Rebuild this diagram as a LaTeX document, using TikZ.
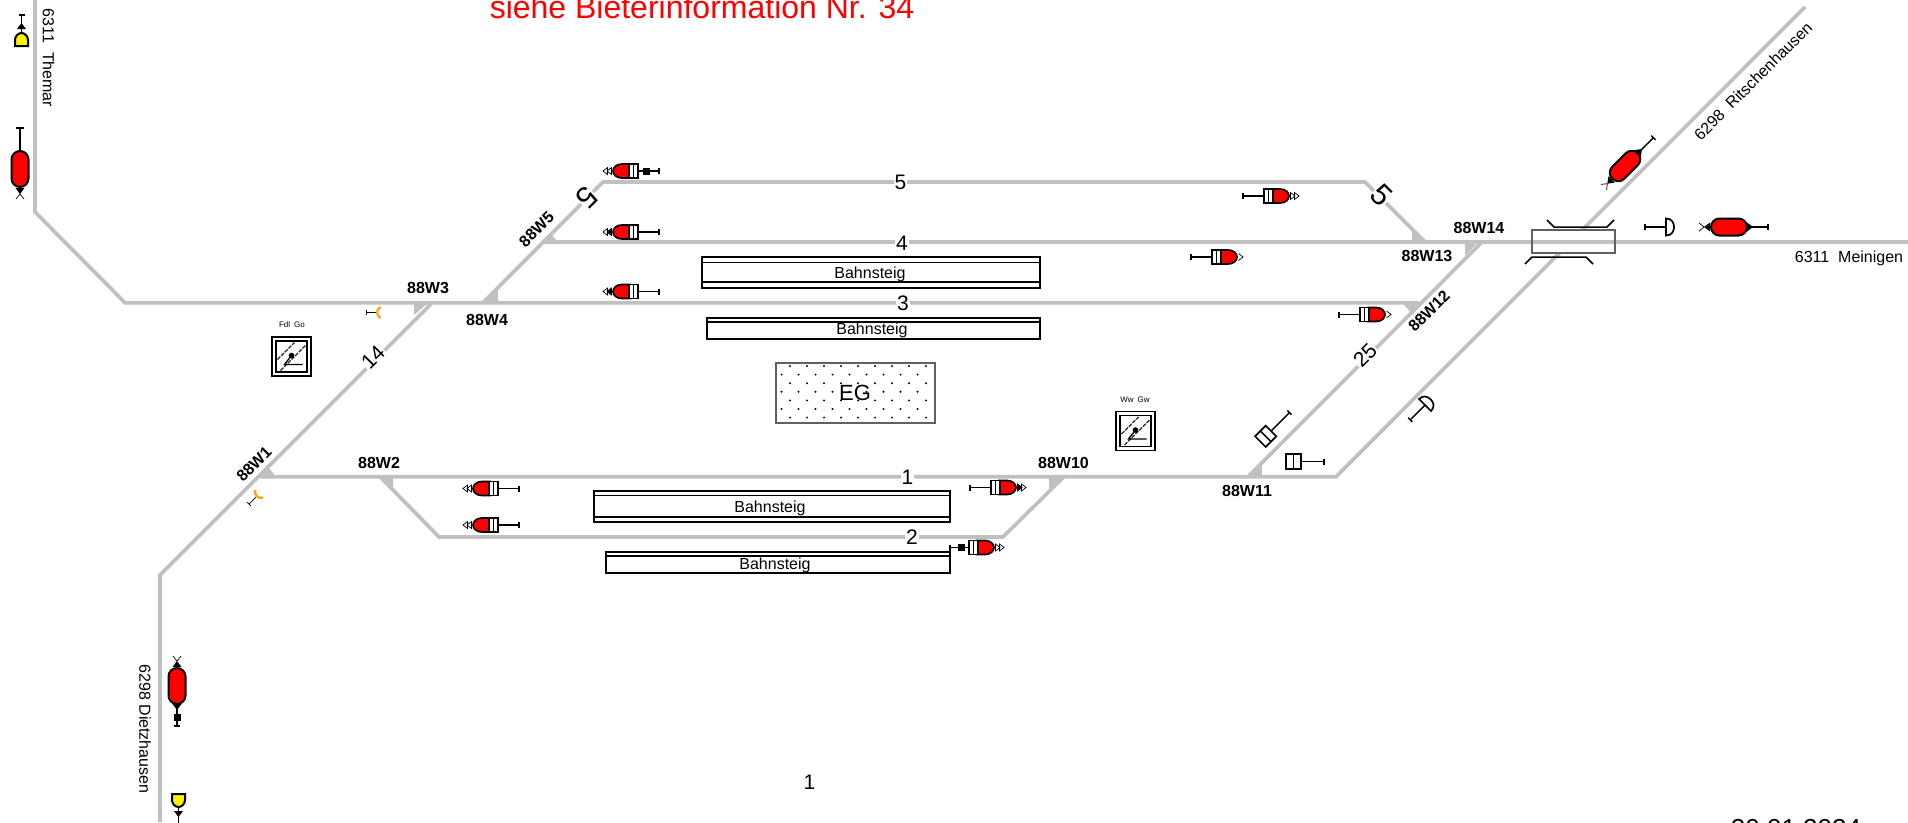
\documentclass[tikz,border=0pt]{standalone}
\usepackage{fontspec}
\setmainfont{Liberation Sans}
\newcommand{\fsz}[1]{\fontsize{#1}{#1}\selectfont}
\definecolor{trackgray}{HTML}{C0C0C0}
\definecolor{boxgray}{HTML}{606060}
\definecolor{warnorange}{HTML}{FFA500}
\tikzset{
  track/.style={draw=trackgray,line width=3.7pt,line join=miter},
  wedge/.style={fill=trackgray,draw=none},
  sigline/.style={draw=black,line width=1.4pt},
  heavyline/.style={draw=black,line width=1.7pt},
  thinline/.style={draw=black,line width=.7pt},
  swlabel/.style={font=\bfseries\fsz{16},inner sep=0pt},
  lbl/.style={font=\fsz{16},inner sep=0pt},
  tracknum/.style={font=\fsz{21},fill=white,inner sep=1pt},
  bignum/.style={font=\fsz{30},fill=white,inner sep=0pt},
  platform/.style={draw=black,line width=1.6pt},
  pics/stemline/.style={code={
    \draw[sigline] (0,0) -- (#1,0);
    \draw[sigline] (#1,-3) -- (#1,3);
  }},
  pics/sqmark/.style={code={
    \fill[black] (#1,-3.5) -- (#1+7,-3.5) -- (#1+7,3.5) -- (#1,3.5) -- cycle;
  }},
  pics/shead/.style={code={
    \draw[heavyline,fill=red] (-8,-7) -- (-16,-7) .. controls (-21.5,-7) and (-25,-3.5) .. (-25,0)
      .. controls (-25,3.5) and (-21.5,7) .. (-16,7) -- (-8,7) -- cycle;
    \draw[heavyline,fill=white] (-9,-7) -- (0,-7) -- (0,7) -- (-9,7) -- cycle;
    \draw[sigline] (-4.5,-7) -- (-4.5,7);
  }},
  pics/chevout/.style={code={
    \draw[thinline] (-26.5,-3.5) -- (-31,0) -- (-26.5,3.5) -- cycle;
    \draw[thinline] (-30.5,-3.5) -- (-35,0) -- (-30.5,3.5) -- cycle;
  }},
  pics/chevfill/.style={code={
    \draw[thinline,fill=black] (-26.5,-3.5) -- (-31,0) -- (-26.5,3.5) -- cycle;
    \draw[thinline] (-30.5,-3.5) -- (-35,0) -- (-30.5,3.5) -- cycle;
  }},
  pics/chevone/.style={code={
    \draw[thinline] (-26.5,-3.5) -- (-31,0) -- (-26.5,3.5);
  }},
  pics/pill/.style={code={
    \draw[line width=2pt,draw=black,fill=red]
      (-9.5,-8.5) -- (9.5,-8.5) .. controls (14.2,-8.5) and (18,-4.7) .. (18,0)
      .. controls (18,4.7) and (14.2,8.5) .. (9.5,8.5) -- (-9.5,8.5)
      .. controls (-14.2,8.5) and (-18,4.7) .. (-18,0)
      .. controls (-18,-4.7) and (-14.2,-8.5) .. (-9.5,-8.5) -- cycle;
  }},
  pics/tritip/.style={code={
    \fill[black] (#1,-4.5) -- (#1+6,0) -- (#1,4.5) -- cycle;
  }},
  pics/tritail/.style={code={
    \fill[black] (-#1,-4.5) -- (-#1-6,0) -- (-#1,4.5) -- cycle;
    \draw[thinline] (-#1-11,-4) -- (-#1-6,0) -- (-#1-11,4);
  }},
  pics/dsig/.style={code={
    \draw[sigline] (0,0) -- (-21,0);
    \draw[sigline] (-21,-3) -- (-21,3);
    \draw[heavyline,fill=white] (0,-8.5) .. controls (6,-8.5) and (8,-4) .. (8,0)
      .. controls (8,4) and (6,8.5) .. (0,8.5) -- cycle;
  }},
  pics/boxsig/.style={code={
    \draw[sigline] (0,0) -- (#1,0);
    \draw[sigline] (#1,-3) -- (#1,3);
    \draw[heavyline,fill=white] (-15,-7.5) -- (0,-7.5) -- (0,7.5) -- (-15,7.5) -- cycle;
    \draw[sigline] (-7.5,-7.5) -- (-7.5,7.5);
  }},
  pics/yellowsig/.style={code={
    \draw[sigline] (13,0) -- (31,0);
    \draw[sigline] (31,-3) -- (31,3);
    \fill[black] (17,-4.5) -- (23,0) -- (17,4.5) -- cycle;
    \draw[line width=2pt,draw=black,fill=yellow] (0,-6.5) -- (6,-6.5)
      .. controls (10,-6.5) and (13,-3) .. (13,0) .. controls (13,3) and (10,6.5) .. (6,6.5)
      -- (0,6.5) -- cycle;
  }},
  pics/smallsig/.style={code={
    \draw[thinline] (0,0) -- (-10,0);
    \draw[thinline] (-10,-2.5) -- (-10,2.5);
    \draw[warnorange,line width=2.2pt] (4.5,-5.5) .. controls (0,-3) and (0,3) .. (4.5,5.5);
  }},
  pics/ctrlbox/.style={code={
    \draw[line width=1.8pt,fill=white] (-19.5,-19.5) -- (19.5,-19.5) -- (19.5,19.5) -- (-19.5,19.5) -- cycle;
    \draw[line width=1.8pt] (-15.5,-15.5) -- (15.5,-15.5) -- (15.5,15.5) -- (-15.5,15.5) -- cycle;
    \draw[line width=1.3pt,dash pattern=on 4pt off 1.2pt,draw=black!85] (-14,3) -- (3,-14);
    \draw[line width=1.3pt,dash pattern=on 4pt off 1.2pt,draw=black!85] (-11,14) -- (14,-11);
    \fill[black] (0,-1) circle[radius=2.8pt];
    \draw[line width=1.3pt] (0,-1) -- (-7,8) -- (11,8);
  }},
}
\begin{document}
\begin{tikzpicture}[x=1pt,y=-1pt]
\useasboundingbox (0,0) rectangle (1908,822);
\clip (0,0) rectangle (1908,822);
\fill[white] (0,0) rectangle (1908,822);

% track points
\coordinate (themarTop) at (35,0);
\coordinate (themarBend) at (35,212);
\coordinate (t3start) at (125,302.7);
\coordinate (w12) at (1419,302.7);
\coordinate (w13) at (1425,242);
\coordinate (t4start) at (542,242);
\coordinate (meiningen) at (1908,242);
\coordinate (t5a) at (603,182);
\coordinate (t5b) at (1365,182);
\coordinate (w4) at (483,302.7);
\coordinate (dietzEnd) at (160,822);
\coordinate (dietzBend) at (160,575);
\coordinate (w3) at (432,303);
\coordinate (w1) at (260,476.7);
\coordinate (ritschBend) at (1336,476.7);
\coordinate (ritschEnd) at (1805,7);
\coordinate (w2) at (380,476.7);
\coordinate (t2a) at (439,537);
\coordinate (t2b) at (1003,537);
\coordinate (w10) at (1064,476.7);
\coordinate (w11) at (1248,476.7);
\coordinate (w14) at (1482,242);

% tracks
\draw[track] (themarTop) -- (themarBend) -- (t3start) -- (w12);
\draw[track] (t4start) -- (meiningen);
\draw[track] (w4) -- (t5a) -- (t5b) -- (w13);
\draw[track] (dietzEnd) -- (dietzBend) -- (w3);
\draw[track] (w1) -- (ritschBend) -- (ritschEnd);
\draw[track] (w2) -- (t2a) -- (t2b) -- (w10);
\draw[track] (w11) -- (w14);

% switch wedges
\fill[wedge] (258,478) -- (277,478) -- (269,468) -- cycle;
\fill[wedge] (379,477) -- (393,477) -- (393,489) -- cycle;
\fill[wedge] (414,303) -- (428,303) -- (414,315) -- cycle;
\fill[wedge] (483,303) -- (498,303) -- (498,287) -- cycle;
\fill[wedge] (542,244) -- (560,244) -- (550,233) -- cycle;
\fill[wedge] (1412,230) -- (1412,243) -- (1426,243) -- cycle;
\fill[wedge] (1465,242) -- (1478,242) -- (1465,256) -- cycle;
\fill[wedge] (1402,302) -- (1419,302) -- (1411,313) -- cycle;
\fill[wedge] (1248,477) -- (1262,477) -- (1262,463) -- cycle;
\fill[wedge] (1049,477) -- (1062,477) -- (1049,489) -- cycle;

% level crossing / bridge
\draw[draw=boxgray,line width=1.2pt,fill=white] (1532,230) rectangle (1615,253);
\draw[track] (1533,242) -- (1614,242);
\draw[line width=1.5pt] (1547,220) -- (1554,227) -- (1607,227) -- (1614,220);
\draw[line width=1.5pt] (1525,264) -- (1532,257) -- (1586,257) -- (1593,264);

% platforms
\draw[platform] (702,257) rectangle (1040,288);
\draw[platform] (702,262.5) -- (1040,262.5);
\draw[platform] (702,282) -- (1040,282);
\draw[platform] (707,318) rectangle (1040,339);
\draw[platform] (707,322) -- (1040,322);
\draw[platform] (594,491) rectangle (950,522);
\draw[platform] (594,495.5) -- (950,495.5);
\draw[platform] (594,517) -- (950,517);
\draw[platform] (606,552) rectangle (950,573);
\draw[platform] (606,556) -- (950,556);
\node[lbl] (p1) at (870,274) {Bahnsteig};
\node[lbl] (p2) at (872,330) {Bahnsteig};
\node[lbl] (p3) at (770,508.5) {Bahnsteig};
\node[lbl] (p4) at (775,565) {Bahnsteig};

% station building
\draw[draw=boxgray,line width=1.2pt] (776,363) rectangle (935,423);
\foreach \r in {0,...,6}{
  \pgfmathsetmacro{\yy}{366+\r*8.6}
  \pgfmathsetmacro{\xo}{mod(\r,2)==0 ? 790 : 781.5}
  \foreach \c in {0,...,8}{
    \fill[black] ({\xo+\c*17},\yy) circle[radius=1.1pt];
  }
}
\node[font=\fsz{22},inner sep=0pt] (eg) at (855,393) {EG};

% main signals, head towards the chevrons
\pic at (638,171) {shead}; \pic at (638,171) {chevout}; \pic at (638,171) {stemline=21}; \pic at (638,171) {sqmark=5};
\pic at (638,232) {shead}; \pic at (638,232) {chevfill}; \pic at (638,232) {stemline=21};
\pic at (638,291.5) {shead}; \pic at (638,291.5) {chevfill}; \pic at (638,291.5) {stemline=21};
\pic at (498,488.5) {shead}; \pic at (498,488.5) {chevout}; \pic at (498,488.5) {stemline=21};
\pic at (498,525) {shead}; \pic at (498,525) {chevout}; \pic at (498,525) {stemline=21};
\pic[rotate=180] at (1264,196) {shead}; \pic[rotate=180] at (1264,196) {chevout}; \pic[rotate=180] at (1264,196) {stemline=21};
\pic[rotate=180] at (1212,257) {shead}; \pic[rotate=180] at (1212,257) {chevone}; \pic[rotate=180] at (1212,257) {stemline=21};
\pic[rotate=180] at (1360,314.5) {shead}; \pic[rotate=180] at (1360,314.5) {chevone}; \pic[rotate=180] at (1360,314.5) {stemline=21};
\pic[rotate=180] at (991,487.5) {shead}; \pic[rotate=180] at (991,487.5) {chevfill}; \pic[rotate=180] at (991,487.5) {stemline=21};
\pic[rotate=180] at (969,547.5) {shead}; \pic[rotate=180] at (969,547.5) {chevout}; \pic[rotate=180] at (969,547.5) {stemline=19}; \pic[rotate=180] at (969,547.5) {sqmark=4};

% oval signals
\draw[sigline] (20,152) -- (20,128);
\draw[sigline] (16,128) -- (24,128);
\pic[rotate=90] at (20,169) {pill};
\pic[rotate=90] at (20,169) {tritail=19};

\pic[rotate=-90] at (177,686) {stemline=40};
\pic[rotate=-90] at (177,686) {pill};
\pic[rotate=-90] at (177,686) {tritip=18};
\pic[rotate=-90] at (177,686) {tritail=19};
\pic[rotate=-90] at (177,686) {sqmark=28};

\pic at (1729,227) {stemline=39};
\pic at (1729,227) {pill};
\pic at (1729,227) {tritip=18};
\pic at (1729,227) {tritail=19};

\pic[rotate=45] at (1625,166) {stemline=40};
\pic[rotate=45] at (1625,166) {pill};
\pic[rotate=45] at (1625,166) {tritip=18};
\pic[rotate=45] at (1625,166) {tritail=19};

% yellow distant signals
\pic[rotate=90] at (21.5,46) {yellowsig};
\pic[rotate=-90] at (178.5,794) {yellowsig};

% semicircle and box signals
\pic at (1666,227) {dsig};
\pic[rotate=45] at (1425,405) {dsig};
\pic at (1301,461.5) {boxsig=23};
\pic[rotate=45] at (1271,431) {boxsig=26};

% small orange signals
\pic at (376,312.5) {smallsig};
\pic[rotate=45] at (256,497) {smallsig};

% control positions
\pic at (291.5,356.5) {ctrlbox};
\pic at (1135.5,431) {ctrlbox};
\node[font=\fsz{8},inner sep=0pt] (fdl) at (292,325) {Fdl\hspace{.5em}Go};
\node[font=\fsz{8},inner sep=0pt] (ww) at (1135,400) {Ww\hspace{.5em}Gw};

% switch labels
\node[swlabel] (s1) at (254,464) [rotate=45] {88W1};
\node[swlabel] (s2) at (379,463) {88W2};
\node[swlabel] (s3) at (428,288) {88W3};
\node[swlabel] (s4) at (487,319.5) {88W4};
\node[swlabel] (s5) at (536.5,229.5) [rotate=45] {88W5};
\node[swlabel] (s10) at (1063.5,462.5) {88W10};
\node[swlabel] (s11) at (1247,490.5) {88W11};
\node[swlabel] (s12) at (1429,311) [rotate=45] {88W12};
\node[swlabel] (s13) at (1427,255.5) {88W13};
\node[swlabel] (s14) at (1479,227.5) {88W14};

% track numbers
\node[tracknum] (n5) at (900.5,182) {5};
\node[tracknum] (n4) at (902,243) {4};
\node[tracknum] (n3) at (903,303) {3};
\node[tracknum] (n1) at (907.5,477) {1};
\node[tracknum] (n2) at (912,537) {2};
\node[tracknum,rotate=45] (n14) at (373,357) {14};
\node[tracknum,rotate=45] (n25) at (1365,355) {25};
\node[bignum,rotate=225] (n5b) at (587,198) {5};
\node[bignum,rotate=-45] (n5c) at (1382,195) {5};

% line names
\node[lbl,rotate=-90] (themar) at (48.5,58) {6311\hspace{.556em}Themar};
\node[lbl,rotate=-90] (dietz) at (145,729) {6298 Dietzhausen};
\node[lbl,rotate=45] (ritsch) at (1753,81) {6298\hspace{.556em}Ritschenhausen};
\node[lbl] (mein) at (1849,258) {6311\hspace{.556em}Meinigen};

% free texts
\node[font=\fsz{32},text=red,anchor=base,inner sep=0pt] (title) at (702,18) {siehe Bieterinformation Nr. 34};
\node[font=\fsz{21},inner sep=0pt] (one) at (809.5,782.5) {1};
\node[font=\fsz{26},anchor=base,inner sep=0pt] (date) at (1796,837) {20.01.2024};
\end{tikzpicture}
\end{document}
